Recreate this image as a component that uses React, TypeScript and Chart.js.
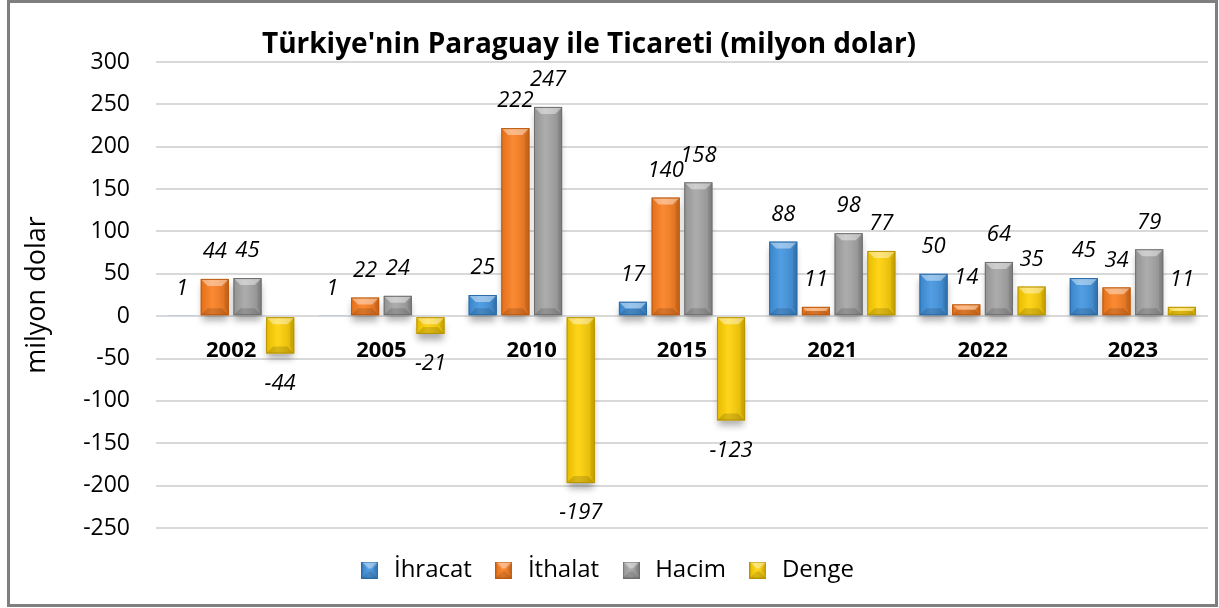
import React, { useEffect, useRef } from "react";
import { Chart, registerables } from "chart.js";

Chart.register(...registerables);

const titleText = "Türkiye'nin Paraguay ile Ticareti (milyon dolar)";
const yAxisTitle = "milyon dolar";
const years = ["2002", "2005", "2010", "2015", "2021", "2022", "2023"];
const ihracat = [1, 1, 25, 17, 88, 50, 45];
const ithalat = [44, 22, 222, 140, 11, 14, 34];
const hacim = [45, 24, 247, 158, 98, 64, 79];
const denge = [-44, -21, -197, -123, 77, 35, 11];
const seriesNames = ["İhracat", "İthalat", "Hacim", "Denge"];
const seriesColors = ["#3f93e0", "#fb7c1c", "#a3a3a3", "#ffd000"];
const seriesEdges = ["#2a6aa6", "#bd5a10", "#6e6e6e", "#b89400"];
const yTicks = [-250, -200, -150, -100, -50, 0, 50, 100, 150, 200, 250, 300];

const FONT = "'Open Sans', 'DejaVu Sans', sans-serif";

function drawBevelBar(
  ctx: CanvasRenderingContext2D,
  l: number,
  t: number,
  r: number,
  b: number,
  color: string,
  edge: string
) {
  const w = r - l;
  const h = b - t;
  if (w <= 0 || h <= 0.9) return;
  const bv = Math.min(7, h / 2, w / 2);
  ctx.save();
  const g = ctx.createLinearGradient(l, 0, r, 0);
  g.addColorStop(0, "rgba(0,0,0,0.10)");
  g.addColorStop(0.4, "rgba(255,255,255,0.10)");
  g.addColorStop(1, "rgba(0,0,0,0.16)");
  ctx.fillStyle = g;
  ctx.fillRect(l, t, w, h);
  ctx.beginPath();
  ctx.moveTo(l, t);
  ctx.lineTo(r, t);
  ctx.lineTo(r - bv, t + bv);
  ctx.lineTo(l + bv, t + bv);
  ctx.closePath();
  ctx.fillStyle = "rgba(255,255,255,0.42)";
  ctx.fill();
  ctx.beginPath();
  ctx.moveTo(l, b);
  ctx.lineTo(r, b);
  ctx.lineTo(r - bv, b - bv);
  ctx.lineTo(l + bv, b - bv);
  ctx.closePath();
  ctx.fillStyle = "rgba(0,0,0,0.14)";
  ctx.fill();
  ctx.beginPath();
  ctx.moveTo(r, t);
  ctx.lineTo(r, b);
  ctx.lineTo(r - bv * 0.6, b - bv);
  ctx.lineTo(r - bv * 0.6, t + bv);
  ctx.closePath();
  ctx.fillStyle = "rgba(0,0,0,0.08)";
  ctx.fill();
  ctx.strokeStyle = edge;
  ctx.lineWidth = 1;
  ctx.strokeRect(l + 0.5, t + 0.5, w - 1, h - 1);
  ctx.restore();
}

function makeLegendIcon(color: string, edge: string) {
  const c = document.createElement("canvas");
  c.width = 17;
  c.height = 17;
  const x = c.getContext("2d")!;
  x.fillStyle = color;
  x.fillRect(0, 0, 17, 17);
  drawBevelBar(x, 0, 0, 17, 17, color, edge);
  return c;
}

const decorPlugin = {
  id: "decor",
  afterLayout(chart: any) {
    const lg = chart.legend;
    if (lg) {
      lg.top += 10;
      lg.bottom += 10;
      lg.left -= 8;
      lg.right -= 8;
    }
  },
  beforeDatasetsDraw(chart: any) {
    const ctx = chart.ctx;
    chart.data.datasets.forEach((ds: any, di: number) => {
      const meta = chart.getDatasetMeta(di);
      meta.data.forEach((el: any) => {
        const l = el.x - el.width / 2;
        const t = Math.min(el.y, el.base);
        const h = Math.abs(el.base - el.y);
        if (h < 1) return;
        ctx.save();
        ctx.shadowColor = "rgba(0,0,0,0.32)";
        ctx.shadowBlur = 7;
        ctx.shadowOffsetY = 6;
        ctx.fillStyle = "rgba(210,210,210,1)";
        ctx.fillRect(l + 1, t, el.width - 2, h);
        ctx.restore();
      });
    });
  },
  afterDatasetsDraw(chart: any) {
    const ctx = chart.ctx;
    const yScale = chart.scales.y;
    const xScale = chart.scales.x;
    chart.data.datasets.forEach((ds: any, di: number) => {
      const meta = chart.getDatasetMeta(di);
      meta.data.forEach((el: any) => {
        const l = el.x - el.width / 2;
        const r = el.x + el.width / 2;
        const t = Math.min(el.y, el.base);
        const b = Math.max(el.y, el.base);
        drawBevelBar(ctx, l, t, r, b, seriesColors[di], seriesEdges[di]);
      });
    });
    ctx.save();
    ctx.font = `italic 22px ${FONT}`;
    ctx.fillStyle = "#000";
    ctx.textAlign = "center";
    ctx.textBaseline = "middle";
    chart.data.datasets.forEach((ds: any, di: number) => {
      const meta = chart.getDatasetMeta(di);
      meta.data.forEach((el: any, i: number) => {
        const v = ds.data[i];
        const y = v >= 0 ? el.y - 27 : el.y + 30;
        ctx.fillText(String(v), el.x, y);
      });
    });
    ctx.font = `bold 22px ${FONT}`;
    const y0 = yScale.getPixelForValue(0);
    years.forEach((yr, i) => {
      ctx.fillText(yr, xScale.getPixelForValue(i), y0 + 35);
    });
    ctx.restore();
  },
  afterDraw(chart: any) {
    const ctx = chart.ctx;
    ctx.save();
    ctx.font = `bold 28px ${FONT}`;
    ctx.fillStyle = "#000";
    ctx.textAlign = "center";
    ctx.textBaseline = "middle";
    ctx.fillText(titleText, 579, 42);
    ctx.restore();
  },
};

export default function App() {
  const ref = useRef<HTMLCanvasElement | null>(null);
  useEffect(() => {
    if (!ref.current) return;
    const icons = seriesColors.map((c, i) => makeLegendIcon(c, seriesEdges[i]));
    const values = [ihracat, ithalat, hacim, denge];
    const chart = new Chart(ref.current, {
      type: "bar",
      data: {
        labels: years,
        datasets: values.map((d, i) => ({
          label: seriesNames[i],
          data: d,
          backgroundColor: seriesColors[i],
          borderWidth: 0,
          categoryPercentage: 0.87,
          barPercentage: 0.86,
        })),
      },
      plugins: [decorPlugin],
      options: {
        animation: false,
        responsive: false,
        maintainAspectRatio: false,
        layout: { padding: { left: 10, right: 7, top: 59, bottom: 22 } },
        plugins: {
          title: { display: false },
          tooltip: { enabled: false },
          legend: {
            position: "bottom",
            labels: {
              usePointStyle: true,
              font: { family: FONT, size: 24 },
              color: "#000",
              padding: 20,
              generateLabels: () =>
                seriesNames.map((n, i) => ({
                  text: n,
                  fillStyle: seriesColors[i],
                  strokeStyle: seriesEdges[i],
                  lineWidth: 0,
                  pointStyle: icons[i],
                  hidden: false,
                  datasetIndex: i,
                })),
            },
          },
        },
        scales: {
          x: { display: false },
          y: {
            min: -250,
            max: 300,
            afterBuildTicks: (s: any) => {
              s.ticks = yTicks.map((v) => ({ value: v }));
            },
            afterFit: (s: any) => {
              s.width = 136;
            },
            border: { display: false },
            grid: { color: "#d9d9d9", lineWidth: 2, drawTicks: false },
            ticks: {
              padding: 26,
              color: "#000",
              font: { family: FONT, size: 23 },
            },
            title: {
              display: true,
              text: yAxisTitle,
              color: "#000",
              font: { family: FONT, size: 27 },
              padding: { top: 1, bottom: 2 },
            },
          },
        },
      },
    });
    return () => chart.destroy();
  }, []);
  return (
    <div
      style={{
        position: "absolute",
        left: 7,
        top: 0,
        width: 1211,
        height: 607,
        boxSizing: "border-box",
        border: "3px solid #7f7f7f",
        background: "#fff",
      }}
    >
      <canvas ref={ref} width={1205} height={601} style={{ display: "block" }} />
    </div>
  );
}
